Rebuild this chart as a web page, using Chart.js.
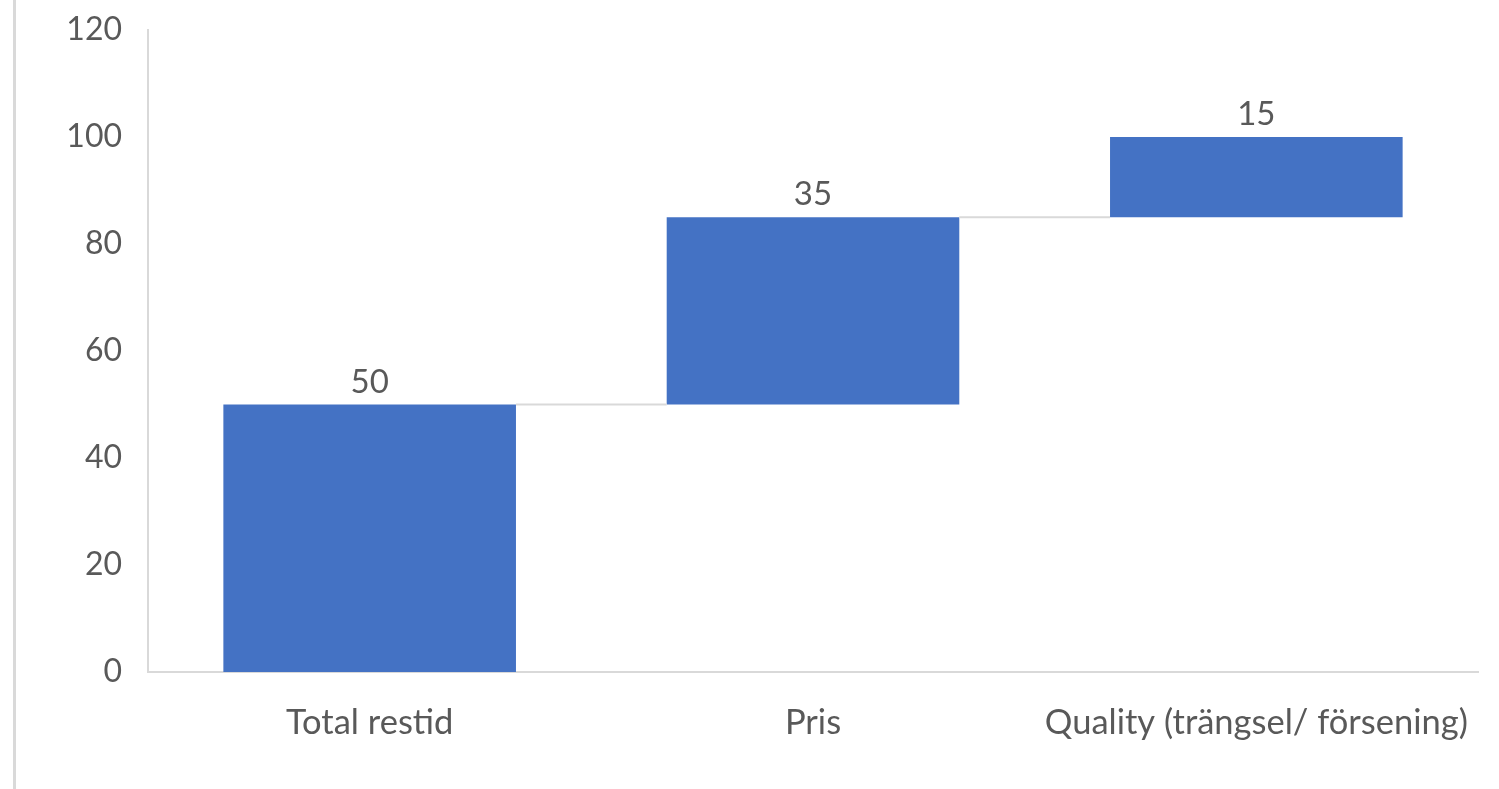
<!DOCTYPE html>
<html>
<head>
<meta charset="utf-8">
<script src="https://cdn.jsdelivr.net/npm/chart.js@4/dist/chart.umd.min.js"></script>
<style>
  html, body { margin: 0; padding: 0; background: #fff; }
  #wrap { width: 1499px; height: 789px; position: relative; }
</style>
</head>
<body>
<div id="wrap"><canvas id="waterfall"></canvas></div>
<script>
// Chart data
const categories = ['Total restid', 'Pris', 'Quality (trängsel/ försening)'];
const steps = [50, 35, 15];
const yTicks = [0, 20, 40, 60, 80, 100, 120];

const barColor = '#4472C4';
const textColor = '#595959';
const lineColor = '#d9d9d9';
const fontFamily = 'Lato, "Open Sans", sans-serif';

// floating bars: [start, end]
let running = 0;
const ranges = steps.map(v => {
    const r = [running, running + v];
    running += v;
    return r;
});

// value labels above each bar + connectors between bars
const waterfallExtras = {
    id: 'waterfallExtras',
    afterDatasetsDraw(chart) {
        const ctx = chart.ctx;
        const meta = chart.getDatasetMeta(0);
        const y = chart.scales.y;
        ctx.save();

        // connectors
        ctx.strokeStyle = lineColor;
        ctx.lineWidth = 2;
        for (let i = 0; i < meta.data.length - 1; i++) {
            const a = meta.data[i];
            const b = meta.data[i + 1];
            const yy = y.getPixelForValue(ranges[i][1]);
            ctx.beginPath();
            ctx.moveTo(a.x + a.width / 2, yy);
            ctx.lineTo(b.x - b.width / 2, yy);
            ctx.stroke();
        }

        // value labels
        ctx.fillStyle = textColor;
        ctx.font = '33px ' + fontFamily;
        ctx.textAlign = 'center';
        ctx.textBaseline = 'bottom';
        meta.data.forEach((bar, i) => {
            ctx.fillText(String(steps[i]), bar.x, y.getPixelForValue(ranges[i][1]) - 6);
        });

        // thin frame line on the left edge
        ctx.fillStyle = lineColor;
        ctx.fillRect(13, 0, 3, chart.height);
        ctx.restore();
    }
};

const ctx = document.getElementById('waterfall').getContext('2d');
new Chart(ctx, {
    type: 'bar',
    data: {
        labels: categories,
        datasets: [{
            data: ranges,
            backgroundColor: barColor,
            borderWidth: 0,
            categoryPercentage: 1,
            barPercentage: 0.66
        }]
    },
    options: {
        responsive: true,
        maintainAspectRatio: false,
        animation: false,
        layout: { padding: { top: 30, right: 21, left: 0, bottom: 0 } },
        plugins: {
            legend: { display: false },
            tooltip: { enabled: false }
        },
        scales: {
            x: {
                grid: { display: false },
                border: { display: true, color: lineColor, width: 2 },
                ticks: {
                    color: textColor,
                    font: { size: 34.5, family: fontFamily },
                    padding: 22,
                    maxRotation: 0
                },
                afterFit(scale) { scale.height = 117; }
            },
            y: {
                min: 0,
                max: 120,
                afterBuildTicks(scale) { scale.ticks = yTicks.map(v => ({ value: v })); },
                grid: { display: false },
                border: { display: true, color: lineColor, width: 2 },
                ticks: {
                    color: textColor,
                    font: { size: 32, family: fontFamily },
                    padding: 18
                },
                afterFit(scale) {
                    scale.width = 148;
                    scale.paddingTop = 0;
                    scale.paddingBottom = 0;
                }
            }
        }
    },
    plugins: [waterfallExtras]
});
</script>
</body>
</html>
